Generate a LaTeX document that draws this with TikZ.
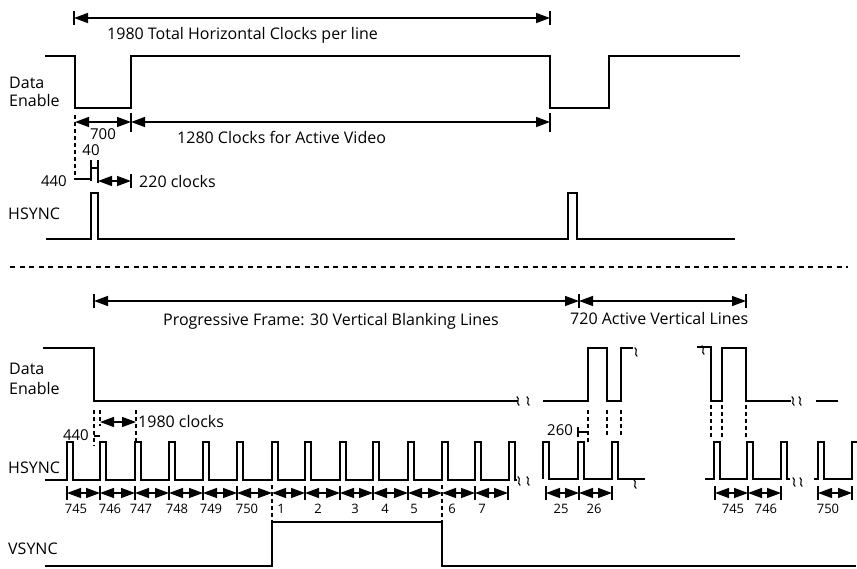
\documentclass[tikz,border=0pt]{standalone}
\usepackage{fontspec}
\setmainfont{Open Sans}
\usetikzlibrary{arrows.meta}
\begin{document}
\begin{tikzpicture}[x=1pt,y=-1pt,
  wave/.style={line width=1.9pt, line join=miter},
  dimline/.style={line width=1.4pt},
  dimarr/.style={line width=1.4pt,{Triangle[length=14pt,width=10pt]}-{Triangle[length=14pt,width=10pt]}},
  guide/.style={line width=1.4pt, dash pattern=on 4pt off 3pt},
  sepline/.style={line width=1.1pt, dash pattern=on 5pt off 4.5pt},
  lbl/.style={inner sep=0pt, font=\fontsize{16}{18}\selectfont},
  numlbl/.style={inner sep=0pt, font=\fontsize{15}{17}\selectfont},
  rowlbl/.style={inner sep=0pt, font=\fontsize{13}{15}\selectfont, anchor=base},
  brk/.pic={\draw[line width=1.1pt] (-1.3,-4.5) .. controls (2.8,-2) and (-2.8,2) .. (1.3,4.5);}
]
\useasboundingbox (0,0) rectangle (857,568);

% ================= TOP SECTION =================
\coordinate (tA) at (74,18);
\coordinate (tB) at (550,18);
\draw[dimarr] (tA) -- (tB);
\draw[dimline] (74,11) -- (74,25);
\draw[dimline] (550,11) -- (550,25);
\node[lbl, anchor=base west] (ttot) at (107,39) {1980 Total Horizontal Clocks per line};

% Data Enable (top)
\node[lbl, anchor=base west] (tde1) at (9,88) {Data};
\node[lbl, anchor=base west] (tde2) at (9,106) {Enable};
\draw[wave] (45,56) -- (75,56) -- (75,108) -- (131,108) -- (131,56) -- (550,56) -- (550,108) -- (609,108) -- (609,56) -- (740,56);

% 700 / 1280 dimensions
\draw[guide] (75,115) -- (75,180);
\draw[dimarr] (75,122) -- (131,122);
\draw[dimline] (131,113) -- (131,132);
\draw[dimarr] (131,122) -- (550,122);
\draw[dimline] (550,113) -- (550,132);
\node[numlbl, anchor=base] (t700) at (103,139) {700};
\node[lbl, anchor=base west] (tact) at (177,143) {1280 Clocks for Active Video};

% 440 / 40 / 220
\node[numlbl, anchor=base] (t40) at (91,155) {40};
\node[numlbl, anchor=base east] (t440) at (67,186) {440};
\draw[dimline] (75,179) -- (91,179);
\draw[dimline] (91,160) -- (91,181);
\draw[dimline] (98,160) -- (98,183);
\draw[dimline] (91,168) -- (98,168);
\draw[dimarr] (98,181) -- (131,181);
\draw[dimline] (131,174) -- (131,188);
\node[lbl, anchor=base west] (t220) at (139,187) {220 clocks};

% HSYNC (top)
\node[lbl, anchor=base west] (ths) at (8,219) {HSYNC};
\draw[wave] (46,239) -- (91,239) -- (91,193) -- (98,193) -- (98,239) -- (568,239) -- (568,193) -- (577,193) -- (577,239) -- (735,239);

% separator
\draw[sepline] (10,267) -- (848,267);

% ================= BOTTOM SECTION =================
\draw[dimarr] (94,301) -- (579,301);
\draw[dimarr] (579,301) -- (746,301);
\draw[dimline] (94,294) -- (94,308);
\draw[dimline] (579,294) -- (579,308);
\draw[dimline] (746,294) -- (746,308);
\node[lbl, anchor=base west] (bprog) at (163,325) {Progressive Frame: 30 Vertical Blanking Lines};
\node[lbl, anchor=base west] (bact) at (570,324) {720 Active Vertical Lines};

% Data Enable (bottom)
\node[lbl, anchor=base west] (bde1) at (9,374) {Data};
\node[lbl, anchor=base west] (bde2) at (9,394) {Enable};
\draw[wave] (43,348) -- (94,348) -- (94,401) -- (518,401);
\pic at (518,401) {brk};
\pic at (528,401) {brk};
\draw[wave] (543,401) -- (588,401) -- (588,348) -- (607,348) -- (607,401) -- (621,401) -- (621,348) -- (633,348);
\pic at (636,352) {brk};
\draw[wave] (697,347) -- (711,347) -- (711,401) -- (722,401) -- (722,348) -- (746,348) -- (746,401) -- (791,401);
\pic at (703,350) {brk};
\pic at (793,401) {brk};
\pic at (800,401) {brk};
\draw[wave] (816,401) -- (838,401);

% guides and 440 / 1980 clocks
\draw[guide] (94,410) -- (94,446);
\draw[guide] (100,410) -- (100,426);
\draw[guide] (136,410) -- (136,444);
\draw[dimline] (94,436) -- (100,436);
\node[numlbl, anchor=base east] (b440) at (89,440) {440};
\draw[dimarr] (100,422) -- (136,422);
\node[lbl, anchor=base west] (b1980) at (138,427) {1980 clocks};

% guides at second and third groups, 260
\draw[guide] (588,410) -- (588,444);
\draw[guide] (607,410) -- (607,436);
\draw[guide] (621,410) -- (621,436);
\draw[dimline] (578,427) -- (578,437);
\draw[dimline] (578,432) -- (588,432);
\node[numlbl, anchor=base west] (b260) at (547,435) {260};
\draw[guide] (711,405) -- (711,438);
\draw[guide] (722,405) -- (722,440);
\draw[guide] (746,405) -- (746,438);

% HSYNC (bottom)
\node[lbl, anchor=base west] (bhs) at (8,473) {HSYNC};
\draw[wave] (45,480) \foreach \s in {67,100,135,169,203,237,272,305,340,373,408,442,475,509} { -- (\s,480) -- (\s,442) -- (\s+6,442) -- (\s+6,480) } -- (517,480);
\pic at (519,481) {brk};
\pic at (528,481) {brk};
\draw[wave] (543,479) \foreach \s in {543,578,612} { -- (\s,479) -- (\s,442) -- (\s+6,442) -- (\s+6,479) } -- (645,479);
\pic at (635,484) {brk};
\draw[wave] (705,479) \foreach \s in {714,747,781} { -- (\s,479) -- (\s,442) -- (\s+6,442) -- (\s+6,479) } -- (790,479);
\pic at (794,482) {brk};
\pic at (801,482) {brk};
\draw[wave] (814,479) -- (818,479) -- (818,442) -- (824,442) -- (824,479) -- (852,479) -- (852,442) -- (857,442);

% line-count dimension row
\foreach \a/\b in {67/100,100/135,135/169,169/203,203/237,237/272,272/305,305/340,340/373,373/408,408/442,442/475,475/508,546/579,579/612,715/748,748/781,818/852}
  \draw[dimarr] (\a,493) -- (\b,493);
\foreach \t in {67,100,135,169,203,237,305,340,373,408,475,508,546,579,612,715,748,781,818,852}
  \draw[dimline] (\t,486) -- (\t,500);
\draw[guide] (272,485) -- (272,522);
\draw[guide] (442,485) -- (442,522);
\foreach \x/\t [count=\i] in {76/745,110/746,141/747,177/748,211/749,247/750,281/1,318/2,355/3,385/4,414/5,452/6,482/7,561/25,594/26,733/745,766/746,828/750}
  \node[rowlbl] (n\i) at (\x,513) {\t};

% VSYNC
\node[lbl, anchor=base west] (bvs) at (8,554) {VSYNC};
\draw[wave] (45,566) -- (272,566) -- (272,522) -- (442,522) -- (442,566) -- (856,566);
\end{tikzpicture}
\end{document}
